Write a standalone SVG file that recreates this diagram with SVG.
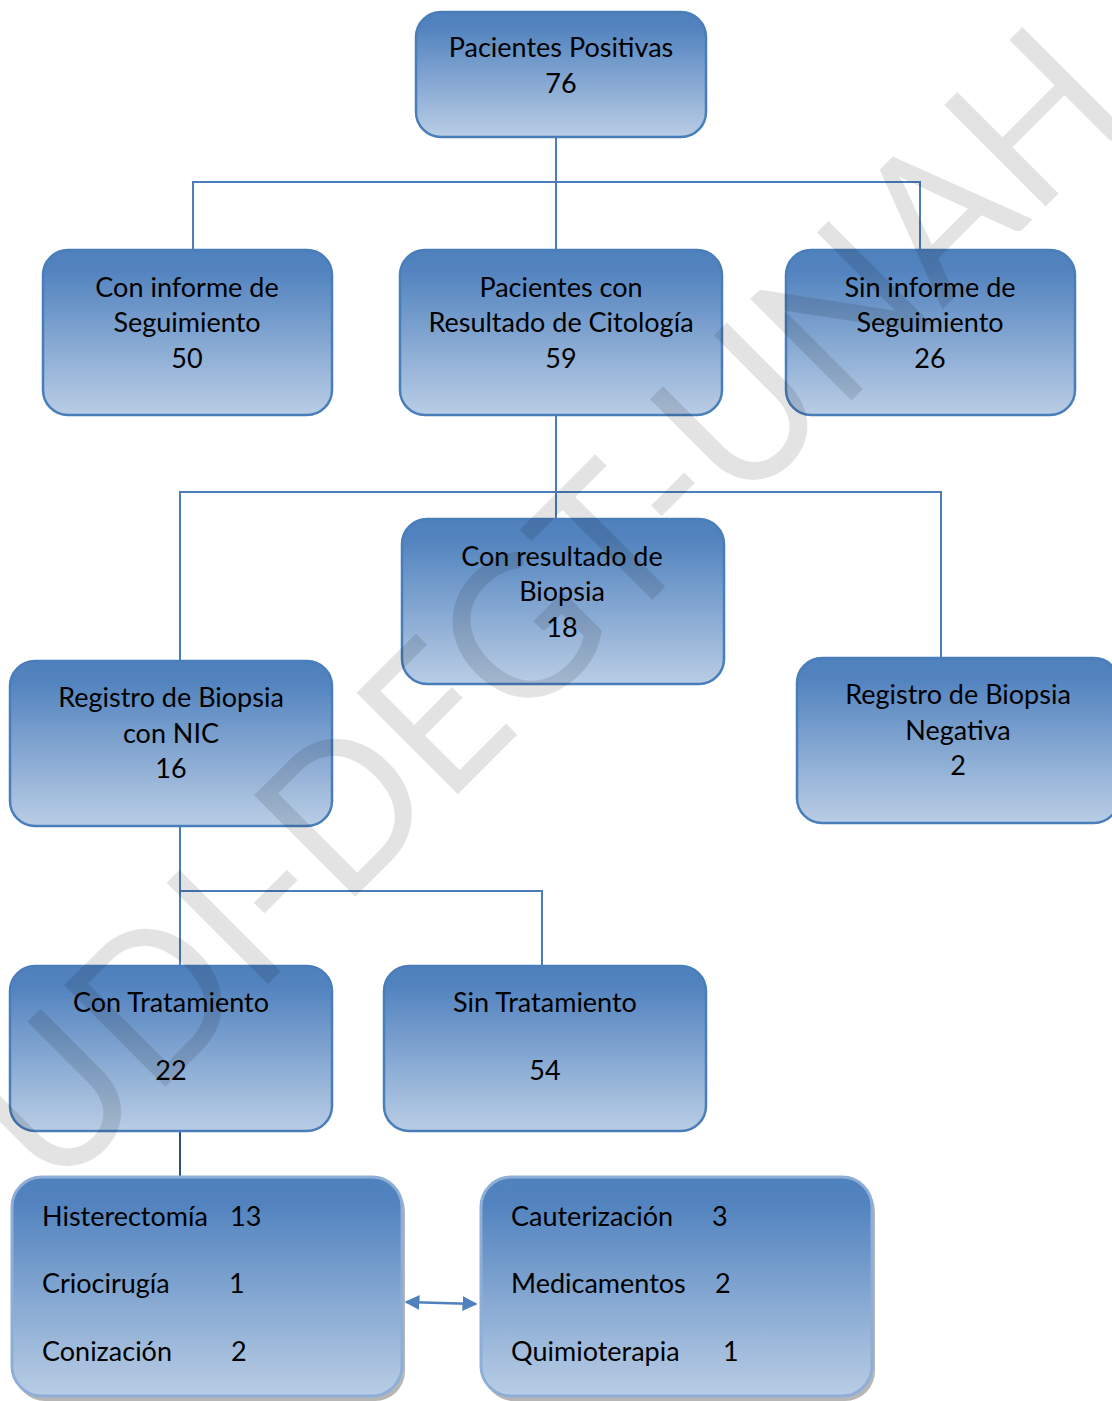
<svg xmlns="http://www.w3.org/2000/svg" width="1112" height="1401" viewBox="0 0 1112 1401">
<style>
.box{fill:url(#g);stroke:#4a7ebb;stroke-width:2.5}
.bbox{fill:url(#g);stroke:#8eaed8;stroke-width:3}
.sh{fill:#7a7a7a;opacity:0.55}
.t{font-family:Lato,"Liberation Sans",sans-serif;font-size:27px;fill:#000;text-anchor:middle}
.l{font-family:Lato,"Liberation Sans",sans-serif;font-size:27px;fill:#000}
.c{fill:none;stroke:#4a7ebb;stroke-width:2}
.wm{font-family:Lato,"Liberation Sans",sans-serif;font-size:200px;font-weight:400;fill:#000;fill-opacity:0.11;text-anchor:middle}
</style>
<defs>
<linearGradient id="g" x1="0" y1="0" x2="0" y2="1">
<stop offset="0" stop-color="#4f81bd"/>
<stop offset="0.12" stop-color="#5283bf"/>
<stop offset="1" stop-color="#b9cde5"/>
</linearGradient>
<marker id="ah" viewBox="0 0 10 10" refX="9" refY="5" markerWidth="6" markerHeight="6" orient="auto-start-reverse" markerUnits="strokeWidth">
<path d="M0,0 L10,5 L0,10 z" fill="#4f81bd"/>
</marker>
</defs>
<rect width="1112" height="1401" fill="#fff"/>
<g id="connectors">
<path class="c" d="M556,137 V250 M193,250 V182 H920 V250"/>
<path class="c" d="M556,415 V519 M180,661 V492 H941 V658"/>
<path class="c" d="M180,826 V966 M180,891 H542 V966"/>
<path d="M180,1131 V1177" fill="none" stroke="#2b4f7e" stroke-width="2"/>
<path d="M406,1302 L476,1304" fill="none" stroke="#4f81bd" stroke-width="2.5" marker-start="url(#ah)" marker-end="url(#ah)"/>
</g>
<g id="n1"><rect class="box" x="416" y="12" width="290" height="125" rx="25"/>
<text class="t" x="561" y="57">Pacientes Positivas</text><text class="t" x="561" y="93">76</text></g>
<g id="n2"><rect class="box" x="43" y="250" width="289" height="165" rx="25"/>
<text class="t" x="187" y="297">Con informe de</text><text class="t" x="187" y="332">Seguimiento</text><text class="t" x="187" y="368">50</text></g>
<g id="n3"><rect class="box" x="400" y="250" width="322" height="165" rx="25"/>
<text class="t" x="561" y="297">Pacientes con</text><text class="t" x="561" y="332">Resultado de Citología</text><text class="t" x="561" y="368">59</text></g>
<g id="n4"><rect class="box" x="786" y="250" width="289" height="165" rx="25"/>
<text class="t" x="930" y="297">Sin informe de</text><text class="t" x="930" y="332">Seguimiento</text><text class="t" x="930" y="368">26</text></g>
<g id="n5"><rect class="box" x="402" y="519" width="322" height="165" rx="25"/>
<text class="t" x="562" y="566">Con resultado de</text><text class="t" x="562" y="601">Biopsia</text><text class="t" x="562" y="637">18</text></g>
<g id="n6"><rect class="box" x="10" y="661" width="322" height="165" rx="25"/>
<text class="t" x="171" y="707">Registro de Biopsia</text><text class="t" x="171" y="743">con NIC</text><text class="t" x="171" y="778">16</text></g>
<g id="n7"><rect class="box" x="797" y="658" width="322" height="165" rx="25"/>
<text class="t" x="958" y="704">Registro de Biopsia</text><text class="t" x="958" y="740">Negativa</text><text class="t" x="958" y="775">2</text></g>
<g id="n8"><rect class="box" x="10" y="966" width="322" height="165" rx="25"/>
<text class="t" x="171" y="1012">Con Tratamiento</text><text class="t" x="171" y="1080">22</text></g>
<g id="n9"><rect class="box" x="384" y="966" width="322" height="165" rx="25"/>
<text class="t" x="545" y="1012">Sin Tratamiento</text><text class="t" x="545" y="1080">54</text></g>
<g id="n10"><rect class="sh" x="15" y="1181" width="390" height="220" rx="30"/>
<rect class="bbox" x="12" y="1177" width="390" height="219" rx="30"/>
<text class="l" x="42" y="1226">Histerectomía</text><text class="l" x="230" y="1226">13</text>
<text class="l" x="42" y="1293">Criocirugía</text><text class="l" x="229" y="1293">1</text>
<text class="l" x="42" y="1361">Conización</text><text class="l" x="231" y="1361">2</text></g>
<g id="n11"><rect class="sh" x="484" y="1181" width="391" height="220" rx="30"/>
<rect class="bbox" x="481" y="1177" width="391" height="219" rx="30"/>
<text class="l" x="511" y="1226">Cauterización</text><text class="l" x="712" y="1226">3</text>
<text class="l" x="511" y="1293">Medicamentos</text><text class="l" x="715" y="1293">2</text>
<text class="l" x="511" y="1361">Quimioterapia</text><text class="l" x="723" y="1361">1</text></g>
<text class="wm" x="595" y="657" transform="rotate(-45 595 657)" textLength="1530" lengthAdjust="spacingAndGlyphs">UDI-DEGT-UNAH</text>
</svg>
